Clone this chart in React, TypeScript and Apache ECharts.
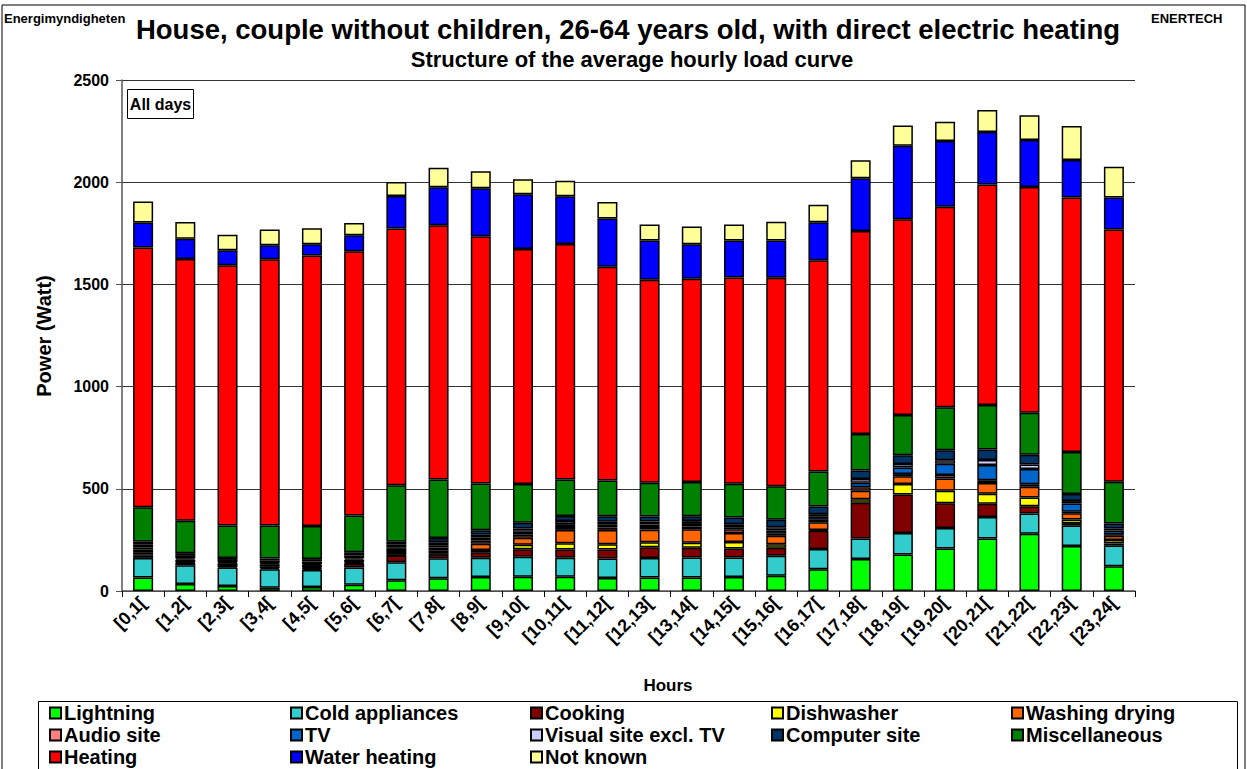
import React, { useEffect, useRef } from "react";
import * as echarts from "echarts";

const hours = ["[0,1[","[1,2[","[2,3[","[3,4[","[4,5[","[5,6[","[6,7[","[7,8[","[8,9[","[9,10[","[10,11[","[11,12[","[12,13[","[13,14[","[14,15[","[15,16[","[16,17[","[17,18[","[18,19[","[19,20[","[20,21[","[21,22[","[22,23[","[23,24["];

const lightning = [66,34,25,16,20,30,52,62,68,70,70,64,66,66,69,74,107,156,179,208,257,280,220,121];
const coldAppliances = [96,92,90,91,83,85,89,98,95,98,93,95,95,98,95,98,98,101,105,100,105,99,100,101];
const cooking = [10,8,6,7,7,18,33,20,26,36,40,44,53,48,44,39,90,175,188,121,65,36,12,10];
const dishwasher = [8,2,1,1,1,2,3,3,12,22,30,26,25,24,32,18,4,17,51,62,49,42,18,18];
const washingDrying = [10,5,4,5,5,6,14,14,30,34,66,70,61,66,44,41,37,42,38,60,52,53,30,20];
const audioSite = [12,12,10,11,11,12,15,15,16,16,14,12,13,14,18,10,13,17,11,17,14,12,8,8];
const tv = [10,6,5,5,5,7,8,12,14,14,14,13,12,12,10,16,15,22,32,55,74,75,40,18];
const visualSite = [14,13,11,12,12,14,12,15,14,16,16,15,15,14,15,16,12,18,17,17,25,22,12,10];
const computerSite = [15,13,10,11,12,16,15,20,22,28,24,27,24,24,32,36,37,41,43,49,51,48,35,24];
const miscellaneous = [169,159,159,161,162,179,276,287,229,189,179,175,166,167,166,165,172,179,197,210,218,205,205,205];
const heating = [1271,1280,1273,1303,1324,1293,1256,1243,1209,1150,1152,1045,993,995,1009,1019,1033,993,958,981,1079,1105,1245,1233];
const waterHeating = [122,99,73,68,54,78,159,186,235,268,233,236,192,168,181,183,186,258,359,321,257,229,183,157];
const notKnown = [103,82,76,78,79,61,69,96,84,74,76,81,78,87,78,92,86,88,100,95,107,121,167,150];

const seriesNames = ["Lightning","Cold appliances","Cooking","Dishwasher","Washing drying","Audio site","TV","Visual site excl. TV","Computer site","Miscellaneous","Heating","Water heating","Not known"];
const seriesColors = ["#00ff00","#33cccc","#800000","#ffff00","#ff6600","#ff8080","#0066cc","#ccccff","#003366","#008000","#ff0000","#0000ff","#ffff99"];
const seriesData = [lightning,coldAppliances,cooking,dishwasher,washingDrying,audioSite,tv,visualSite,computerSite,miscellaneous,heating,waterHeating,notKnown];

const yTicks = { min: 0, max: 2500, interval: 500 };

const FONT = "'Liberation Sans', Arial, sans-serif";

export default function App() {
  const ref = useRef<HTMLDivElement>(null);
  useEffect(() => {
    if (!ref.current) return;
    const chart = echarts.init(ref.current, null, { renderer: "svg" });
    const legendCols = [
      { x: 49, names: ["Lightning", "Audio site", "Heating"] },
      { x: 290, names: ["Cold appliances", "TV", "Water heating"] },
      { x: 530, names: ["Cooking", "Visual site excl. TV", "Not known"] },
      { x: 771, names: ["Dishwasher", "Computer site"] },
      { x: 1011, names: ["Washing drying", "Miscellaneous"] },
    ];
    const option: any = {
      animation: false,
      backgroundColor: "#ffffff",
      textStyle: { fontFamily: FONT },
      grid: { left: 122, right: 112, top: 80, bottom: 178, containLabel: false },
      legend: legendCols.map((c) => ({
        orient: "vertical",
        left: c.x,
        top: 703,
        height: 90,
        width: 230,
        itemWidth: 11,
        itemHeight: 11,
        itemGap: 2,
        icon: "rect",
        padding: 0,
        selectedMode: false,
        data: c.names,
        textStyle: { fontFamily: FONT, fontSize: 20, fontWeight: "bold", color: "#000", lineHeight: 20, padding: [0, 0, 0, -2] },
      })),
      xAxis: {
        type: "category",
        data: hours,
        axisLine: { lineStyle: { color: "#555", width: 1.5 } },
        axisTick: { show: true, length: 6, lineStyle: { color: "#000" } },
        axisLabel: { interval: 0, rotate: 45, fontFamily: FONT, fontSize: 18, fontWeight: "bold", color: "#000", margin: 9 },
      },
      yAxis: {
        type: "value",
        min: yTicks.min,
        max: yTicks.max,
        interval: yTicks.interval,
        axisLine: { show: true, lineStyle: { color: "#555", width: 1.5 } },
        axisTick: { show: true, length: 6, lineStyle: { color: "#555" } },
        axisLabel: { fontFamily: FONT, fontSize: 16, fontWeight: "bold", color: "#000", margin: 13, formatter: (v: number) => String(v) },
        splitLine: { show: true, lineStyle: { color: "#333", width: 1 } },
      },
      series: seriesNames.map((name, i) => ({
        name,
        type: "bar",
        stack: "total",
        data: seriesData[i],
        barWidth: 20,
        itemStyle: { color: seriesColors[i], borderColor: "#000", borderWidth: 1.5 },
        emphasis: { disabled: true },
      })),
      graphic: [
        { type: "rect", shape: { x: 2, y: 5, width: 1243, height: 780 }, style: { fill: "none", stroke: "#000", lineWidth: 1 }, silent: true },
        { type: "text", left: 4, top: 12, style: { text: "Energimyndigheten", fontFamily: FONT, fontSize: 13, fontWeight: "bold", fill: "#000" } },
        { type: "text", left: 1151, top: 12, style: { text: "ENERTECH", fontFamily: FONT, fontSize: 13, fontWeight: "bold", fill: "#000" } },
        { type: "text", x: 628, y: 29, style: { text: "House, couple without children, 26-64 years old, with direct electric heating", fontFamily: FONT, fontSize: 27.5, fontWeight: "bold", fill: "#000", align: "center", verticalAlign: "middle" } },
        { type: "text", x: 632, y: 59, style: { text: "Structure of the average hourly load curve", fontFamily: FONT, fontSize: 22, fontWeight: "bold", fill: "#000", align: "center", verticalAlign: "middle" } },
        { type: "rect", shape: { x: 127.5, y: 89.5, width: 66, height: 29 }, style: { fill: "#fff", stroke: "#000", lineWidth: 1 } },
        { type: "text", x: 160.5, y: 104, style: { text: "All days", fontFamily: FONT, fontSize: 16, fontWeight: "bold", fill: "#000", align: "center", verticalAlign: "middle" } },
        { type: "text", x: 44, y: 336, rotation: Math.PI / 2, style: { text: "Power (Watt)", fontFamily: FONT, fontSize: 20, fontWeight: "bold", fill: "#000", align: "center", verticalAlign: "middle" } },
        { type: "text", x: 668, y: 685, style: { text: "Hours", fontFamily: FONT, fontSize: 17, fontWeight: "bold", fill: "#000", align: "center", verticalAlign: "middle" } },
        { type: "rect", shape: { x: 38.5, y: 701.5, width: 1199, height: 80 }, style: { fill: "none", stroke: "#000", lineWidth: 1 } },
      ],
    };
    chart.setOption(option);
    return () => chart.dispose();
  }, []);
  return <div ref={ref} style={{ position: "absolute", left: 0, top: 0, width: 1247, height: 769 }} />;
}
